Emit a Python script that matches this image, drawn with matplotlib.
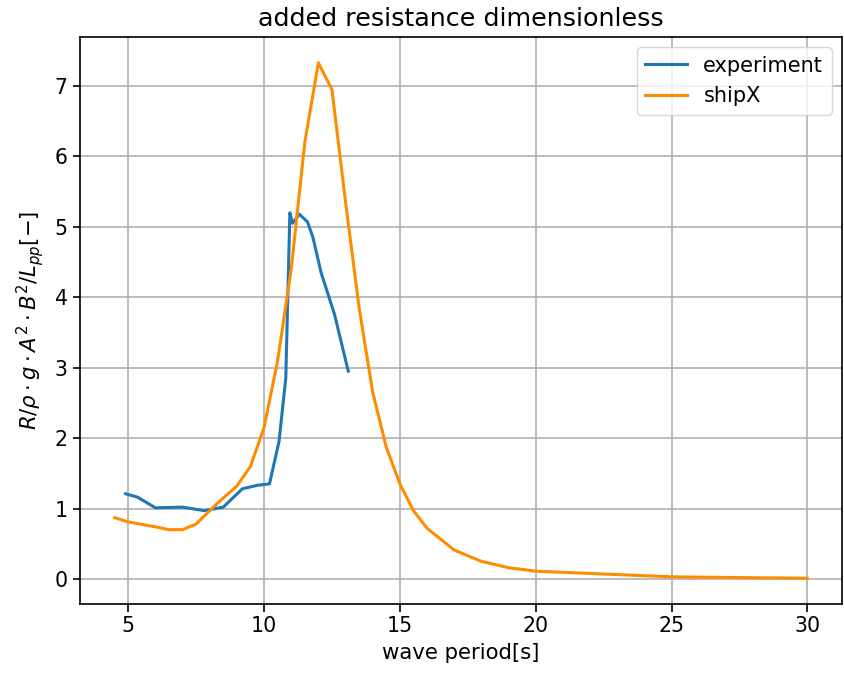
import numpy as np
import matplotlib
matplotlib.use("Agg")
import matplotlib.pyplot as plt

# Experiment (model test) values
exp_period = [4.9, 5.35, 6.0, 7.0, 7.8, 8.5, 9.2, 9.75, 10.2, 10.55, 10.8, 10.95,
              11.05, 11.3, 11.6, 11.8, 12.1, 12.6, 13.1]
exp_raw = [1.21, 1.16, 1.01, 1.02, 0.97, 1.02, 1.28, 1.33, 1.35, 1.95, 2.85, 5.2,
           5.05, 5.18, 5.07, 4.85, 4.35, 3.75, 2.95]

# shipX calculation
ship_period = [4.5, 5.0, 6.0, 6.5, 7.0, 7.5, 8.0, 8.5, 9.0, 9.5, 10.0, 10.5, 11.0,
               11.5, 12.0, 12.5, 13.0, 13.5, 14.0, 14.5, 15.0, 15.5, 16.0, 17.0,
               18.0, 19.0, 20.0, 25.0, 30.0]
ship_raw = [0.87, 0.81, 0.74, 0.70, 0.70, 0.78, 0.97, 1.15, 1.32, 1.60, 2.15, 3.1,
            4.4, 6.2, 7.33, 6.95, 5.35, 3.85, 2.65, 1.87, 1.35, 0.97, 0.72, 0.41,
            0.25, 0.16, 0.11, 0.03, 0.01]

plt.rcParams['font.size'] = 15

fig = plt.figure(figsize=(8.44, 6.73), dpi=100)
ax = fig.add_axes([0.0948, 0.1025, 0.9028, 0.8425])

ax.plot(exp_period, exp_raw, color='#1f77b4', linewidth=2.2, label='experiment')
ax.plot(ship_period, ship_raw, color='darkorange', linewidth=2.2, label='shipX')

ax.set_title('added resistance dimensionless', fontsize=18.3, pad=8)
ax.set_xlabel('wave period[s]', fontsize=15.3, labelpad=5)
ax.set_ylabel(r'$R/\rho \cdot g \cdot A^2 \cdot B^2/L_{pp}[-]$', fontsize=15.3, labelpad=6)
ax.grid(True, color='#b0b0b0', linewidth=1.2)
for side in ax.spines.values():
    side.set_linewidth(1.2)
ax.tick_params(length=5.4, width=1.2, labelsize=14.8)
ax.legend(loc='upper right', fontsize=15)

fig.savefig('out.png', dpi=100)
